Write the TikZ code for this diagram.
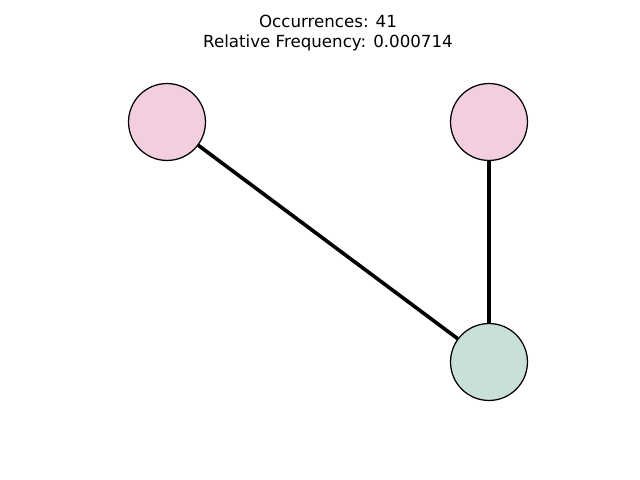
\documentclass[tikz,border=0pt]{standalone}
\usepackage{fontspec}
\setmainfont{DejaVu Sans}
\usetikzlibrary{positioning}
\definecolor{NicePink}{HTML}{F2CEDF}
\definecolor{NiceGreen}{HTML}{C9E0D8}

\begin{document}
\begin{tikzpicture}[x=0.72pt,y=-0.72pt,
    vertex/.style={circle,draw=black,line width=0.9pt,minimum size=55.4pt,inner sep=0pt},
    link/.style={line width=2.6pt,black}]
    \useasboundingbox (0,0) rectangle (640,480);

    \node[align=center,font=\fontsize{12pt}{15pt}\selectfont] (title) at (328,33) {Occurrences: 41\\Relative Frequency: 0.000714};

    \node[vertex,fill=NicePink] (a) at (167,122) {};
    \node[vertex,fill=NicePink] (b) at (489,122) {};
    \node[vertex,fill=NiceGreen] (c) at (489,362) {};

    \draw[link] (a) -- (c);
    \draw[link] (b) -- (c);
  \end{tikzpicture}
\end{document}
